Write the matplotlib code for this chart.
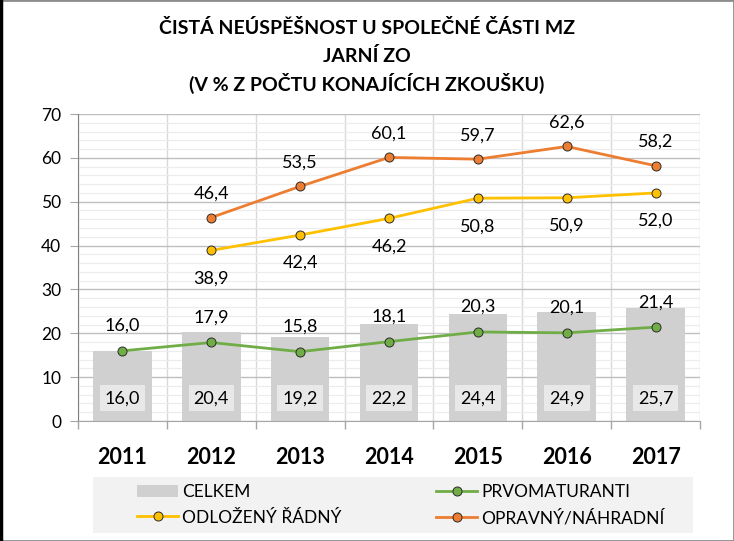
import numpy as np
import matplotlib
matplotlib.use("Agg")
import matplotlib.pyplot as plt
from matplotlib.patches import Rectangle
from matplotlib.lines import Line2D
from matplotlib.ticker import MultipleLocator, FixedLocator

plt.rcParams['font.family'] = ['Lato', 'DejaVu Sans']

roky = ['2011', '2012', '2013', '2014', '2015', '2016', '2017']
celkem = [16.0, 20.4, 19.2, 22.2, 24.4, 24.9, 25.7]
prvomaturanti = [16.0, 17.9, 15.8, 18.1, 20.3, 20.1, 21.4]
odlozeny = [np.nan, 38.9, 42.4, 46.2, 50.8, 50.9, 52.0]
opravny = [np.nan, 46.4, 53.5, 60.1, 59.7, 62.6, 58.2]

def cz(v):
    return f"{v:.1f}".replace('.', ',')

fig = plt.figure(figsize=(7.34, 5.41), dpi=100)
ax = fig.add_axes([78/734, 1-421/541, (700-78)/734, (421-114)/541])

x = np.arange(len(roky))

ax.bar(x, celkem, width=0.66, color='#d0d0d0', zorder=2, label='CELKEM')
l_prvo, = ax.plot(x, prvomaturanti, color='#70ad47', lw=2, marker='o', ms=6.5,
                  mfc='#70ad47', mec='#2b2b2b', mew=0.7, zorder=4, label='PRVOMATURANTI')
l_odl, = ax.plot(x, odlozeny, color='#ffc000', lw=2, marker='o', ms=6.5,
                 mfc='#ffc000', mec='#2b2b2b', mew=0.7, zorder=4, label='ODLOŽENÝ ŘÁDNÝ')
l_opr, = ax.plot(x, opravny, color='#ed7d31', lw=2, marker='o', ms=6.5,
                 mfc='#ed7d31', mec='#2b2b2b', mew=0.7, zorder=4, label='OPRAVNÝ/NÁHRADNÍ')

# popisky dat
fs = 13
for i, v in enumerate(celkem):
    ax.text(i, 5.2, cz(v), ha='center', va='center', fontsize=fs, zorder=5,
            bbox=dict(boxstyle='square,pad=0.28', fc='#e8e8e8', ec='none'))
for i, v in enumerate(prvomaturanti):
    ax.annotate(cz(v), (i, v), xytext=(0, 25), textcoords='offset pixels',
                ha='center', va='center', fontsize=fs, zorder=5)
for i, v in enumerate(opravny):
    if not np.isnan(v):
        ax.annotate(cz(v), (i, v), xytext=(0, 24), textcoords='offset pixels',
                    ha='center', va='center', fontsize=fs, zorder=5)
for i, v in enumerate(odlozeny):
    if not np.isnan(v):
        ax.annotate(cz(v), (i, v), xytext=(0, -28), textcoords='offset pixels',
                    ha='center', va='center', fontsize=fs, zorder=5)

ax.set_xlim(-0.5, 6.5)
ax.set_ylim(0, 70)
ax.yaxis.set_major_locator(MultipleLocator(10))
ax.yaxis.set_minor_locator(MultipleLocator(2))
ax.set_xticks(x)
ax.set_xticklabels(roky, fontsize=15.5, fontweight='bold')
ax.xaxis.set_minor_locator(FixedLocator(np.arange(-0.5, 7, 1)))
ax.tick_params(axis='x', which='major', length=0, pad=19)
ax.tick_params(axis='x', which='minor', length=6, color='#a6a6a6', width=1)
ax.tick_params(axis='y', which='major', length=6, color='#a6a6a6', labelsize=12.5, pad=6)
ax.tick_params(axis='y', which='minor', length=0)

ax.grid(axis='y', which='major', color='#bfbfbf', lw=1, zorder=0)
ax.grid(axis='y', which='minor', color='#ececec', lw=0.8, zorder=0)
ax.grid(axis='x', which='minor', color='#d9d9d9', lw=1, zorder=0)
ax.set_axisbelow(True)
for s in ['top', 'right']:
    ax.spines[s].set_visible(False)
ax.spines['left'].set_color('#808080')
ax.spines['bottom'].set_color('#a6a6a6')

tfs = 14
fig.text(0.5, 1-28/541, 'ČISTÁ NEÚSPĚŠNOST U SPOLEČNÉ ČÁSTI MZ', ha='center', va='center',
         fontsize=tfs, fontweight='bold')
fig.text(0.5, 1-56/541, 'JARNÍ ZO', ha='center', va='center', fontsize=tfs, fontweight='bold')
fig.text(0.5, 1-83/541, '(V % Z POČTU KONAJÍCÍCH ZKOUŠKU)', ha='center', va='center',
         fontsize=tfs, fontweight='bold')

# legenda
fig.add_artist(Rectangle((93/734, 1-533/541), 600/734, 56/541, transform=fig.transFigure,
                         fc='#f2f2f2', ec='none', zorder=0))
handles = [ax.patches[0], l_odl, l_prvo, l_opr]
labels = ['CELKEM', 'ODLOŽENÝ ŘÁDNÝ', 'PRVOMATURANTI', 'OPRAVNÝ/NÁHRADNÍ']
fig.legend(handles, labels, ncol=2, mode='expand', loc='center',
           bbox_to_anchor=(128/734, 1-532/541, 545/734, 54/541),
           frameon=False, fontsize=12.5, handlelength=2.4, handletextpad=0.2,
           borderpad=0, labelspacing=0.55)

# rámeček
fig.add_artist(Rectangle((0, 0), 1, 1, transform=fig.transFigure, fc='none',
                         ec='#8c8c8c', lw=2))
fig.add_artist(Line2D([0.002, 0.002], [0, 1], transform=fig.transFigure, color='black', lw=2.5))

fig.savefig('out.png', dpi=100)
